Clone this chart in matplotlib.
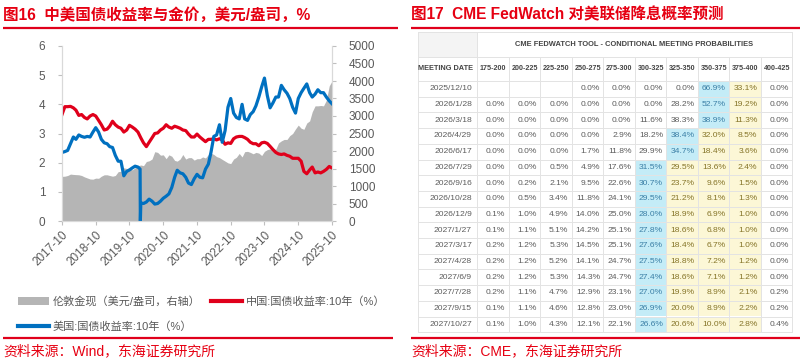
import numpy as np
import pandas as pd
import matplotlib
matplotlib.use('Agg')
import matplotlib.pyplot as plt
from matplotlib.patches import Rectangle
from matplotlib.lines import Line2D
from matplotlib.patches import Patch

plt.rcParams['font.family'] = ['Liberation Sans', 'Noto Sans CJK SC']

# ---------------- data: left chart (monthly, 2017-10 .. 2025-10) ----------------
start_month = '2017-10-01'
cn_10y = [3.65, 3.92, 3.92,
          3.93, 3.88, 3.80, 3.62, 3.65, 3.55, 3.50, 3.60, 3.65, 3.60, 3.45, 3.30,
          3.12, 3.15, 3.25, 3.42, 3.30, 3.22, 3.18, 3.05, 3.12, 3.28, 3.22, 3.15,
          3.05, 2.85, 2.68, 2.55, 2.70, 2.85, 3.00, 3.02, 3.12, 3.18, 3.30, 3.22,
          3.18, 3.25, 3.22, 3.18, 3.12, 3.10, 2.98, 2.88, 2.88, 2.98, 2.88, 2.80,
          2.72, 2.80, 2.80, 2.82, 2.78, 2.82, 2.78, 2.63, 2.68, 2.66, 2.82, 2.88,
          2.90, 2.90, 2.86, 2.80, 2.70, 2.65, 2.65, 2.58, 2.68, 2.70, 2.66, 2.56,
          2.45, 2.35, 2.30, 2.28, 2.30, 2.25, 2.22, 2.15, 2.15, 2.15, 2.05, 1.70,
          1.62, 1.75, 1.85, 1.65, 1.68, 1.65, 1.70, 1.77, 1.87, 1.82]
us_10y = [2.35, 2.38, 2.42,
          2.65, 2.88, 2.80, 2.95, 2.90, 2.87, 2.90, 2.88, 3.05, 3.20, 3.05, 2.80,
          2.68, 2.65, 2.55, 2.52, 2.25, 2.05, 2.05, 1.55, 1.70, 1.75, 1.82, 1.88,
          1.85, 0.62, 0.60, 0.65, 0.75, 0.68, 0.58, 0.60, 0.68, 0.78, 0.85, 0.93,
          1.15, 1.50, 1.74, 1.65, 1.62, 1.50, 1.30, 1.25, 1.45, 1.60, 1.50, 1.48,
          1.78, 1.95, 2.35, 2.90, 2.95, 3.30, 2.70, 3.10, 3.90, 4.20, 3.70, 3.55,
          3.50, 4.00, 3.50, 3.45, 3.65, 3.75, 3.95, 4.25, 4.60, 4.90, 4.30, 3.88,
          4.05, 4.25, 4.25, 4.65, 4.50, 4.38, 4.20, 3.90, 3.70, 4.20, 4.40, 4.55,
          4.70, 4.40, 4.25, 4.35, 4.50, 4.40, 4.40, 4.25, 4.12, 4.02]
us_extra_dates = ['2020-01-24', '2020-01-27']
us_extra_vals = [1.78, 0.0]
gold = [1275, 1280, 1300,
        1340, 1330, 1325, 1320, 1300, 1260, 1230, 1200, 1195, 1225, 1220, 1280,
        1320, 1320, 1300, 1280, 1300, 1410, 1420, 1520, 1500, 1510, 1460, 1520,
        1580, 1600, 1580, 1700, 1720, 1770, 1980, 1960, 1880, 1890, 1780, 1890,
        1850, 1730, 1710, 1770, 1900, 1770, 1810, 1810, 1740, 1780, 1780, 1830,
        1800, 1900, 1940, 1900, 1840, 1810, 1760, 1710, 1660, 1640, 1770, 1820,
        1930, 1830, 1980, 1990, 1960, 1920, 1960, 1940, 1870, 1990, 2040, 2060,
        2040, 2050, 2230, 2290, 2330, 2330, 2440, 2500, 2630, 2740, 2650, 2620,
        2800, 2860, 3120, 3290, 3290, 3300, 3290, 3450, 3860, 4000]
xtick_labels = ['2017-10', '2018-10', '2019-10', '2020-10', '2021-10',
                '2022-10', '2023-10', '2024-10', '2025-10']

# ---------------- data: right table ----------------
rate_bins = ['175-200', '200-225', '225-250', '250-275', '275-300',
             '300-325', '325-350', '350-375', '375-400', '400-425']
meeting_dates = ['2025/12/10', '2026/1/28', '2026/3/18', '2026/4/29', '2026/6/17',
                 '2026/7/29', '2026/9/16', '2026/10/28', '2026/12/9', '2027/1/27',
                 '2027/3/17', '2027/4/28', '2027/6/9', '2027/7/28', '2027/9/15',
                 '2027/10/27']
prob_rows = [
    [None, None, None, 0.0, 0.0, 0.0, 0.0, 66.9, 33.1, 0.0],
    [0.0, 0.0, 0.0, 0.0, 0.0, 0.0, 28.2, 52.7, 19.2, 0.0],
    [0.0, 0.0, 0.0, 0.0, 0.0, 11.6, 38.3, 38.9, 11.3, 0.0],
    [0.0, 0.0, 0.0, 0.0, 2.9, 18.2, 38.4, 32.0, 8.5, 0.0],
    [0.0, 0.0, 0.0, 1.7, 11.8, 29.9, 34.7, 18.4, 3.6, 0.0],
    [0.0, 0.0, 0.5, 4.9, 17.6, 31.5, 29.5, 13.6, 2.4, 0.0],
    [0.0, 0.2, 2.1, 9.5, 22.6, 30.7, 23.7, 9.6, 1.5, 0.0],
    [0.0, 0.5, 3.4, 11.8, 24.1, 29.5, 21.2, 8.1, 1.3, 0.0],
    [0.1, 1.0, 4.9, 14.0, 25.0, 28.0, 18.9, 6.9, 1.0, 0.0],
    [0.1, 1.1, 5.1, 14.2, 25.1, 27.8, 18.6, 6.8, 1.0, 0.0],
    [0.2, 1.2, 5.3, 14.5, 25.1, 27.6, 18.4, 6.7, 1.0, 0.0],
    [0.2, 1.2, 5.2, 14.1, 24.7, 27.5, 18.8, 7.2, 1.2, 0.0],
    [0.2, 1.2, 5.3, 14.3, 24.7, 27.4, 18.6, 7.1, 1.2, 0.0],
    [0.2, 1.1, 4.7, 12.9, 23.1, 27.0, 19.9, 8.9, 2.1, 0.2],
    [0.1, 1.1, 4.6, 12.8, 23.0, 26.9, 20.0, 8.9, 2.2, 0.2],
    [0.1, 1.0, 4.3, 12.1, 22.1, 26.6, 20.6, 10.0, 2.8, 0.4],
]
current_bin = '375-400'

# ---------------- styles ----------------
RED_T = '#e60012'
RED_L = '#e0001b'
BLUE_L = '#0070c0'
GRAY_A = '#b5b5b5'
TXT = '#595959'

W, H = 807, 363
fig = plt.figure(figsize=(W / 100, H / 100), dpi=100)

def fx(px):
    return px / W

def fy(py):
    return 1 - py / H

# ---------------- left chart ----------------
dates = pd.date_range(start_month, periods=len(cn_10y), freq='MS')
us_s = pd.Series(us_10y, index=dates)
us_s = pd.concat([us_s, pd.Series(us_extra_vals, index=pd.to_datetime(us_extra_dates))]).sort_index()

ax_l, ax_r, ax_t, ax_b = 62, 332, 46, 221
ax = fig.add_axes([fx(ax_l), fy(ax_b), fx(ax_r - ax_l), (ax_b - ax_t) / H])
ax2 = ax.twinx()
ax2.fill_between(dates, gold, 0, color=GRAY_A, lw=0)
ax2.set_ylim(0, 5000)
ax2.set_yticks(np.arange(0, 5001, 500))
ax.set_zorder(ax2.get_zorder() + 1)
ax.patch.set_visible(False)

ax.plot(dates, cn_10y, color=RED_L, lw=2.3, solid_joinstyle='round')
ax.plot(us_s.index, us_s.values, color=BLUE_L, lw=2.3, solid_joinstyle='round')
ax.set_ylim(0, 6)
ax.set_yticks(range(0, 7))
ax.set_xlim(dates[0], dates[-1])
tick_dates = pd.to_datetime([s + '-01' for s in xtick_labels])
ax.set_xticks(tick_dates)
ax.set_xticklabels(xtick_labels, rotation=45, ha='right', rotation_mode='anchor')

for a in (ax, ax2):
    for s in a.spines.values():
        s.set_color('#d9d9d9')
    a.spines['top'].set_visible(False)
    a.tick_params(colors='#bfbfbf', labelcolor=TXT, labelsize=8.5, length=3, width=0.8)
ax.tick_params(axis='y', pad=9)
ax2.tick_params(axis='y', pad=9)
ax.tick_params(axis='x', pad=3, labelsize=8.5)

handles = [Patch(facecolor=GRAY_A, edgecolor='none'),
           Line2D([], [], color=BLUE_L, lw=3),
           Line2D([], [], color=RED_L, lw=3)]
labels = ['伦敦金现（美元/盎司，右轴）', '美国:国债收益率:10年（%）', '中国:国债收益率:10年（%）']
leg = fig.legend(handles, labels, ncol=2, loc='upper left',
                 bbox_to_anchor=(fx(18), fy(296)), frameon=False,
                 fontsize=8, handlelength=2.8, handleheight=0.7,
                 handletextpad=0.35, columnspacing=0.9, labelspacing=1.3,
                 borderaxespad=0, borderpad=0)
for t in leg.get_texts():
    t.set_color(TXT)

# ---------------- overlay for titles / table ----------------
ov = fig.add_axes([0, 0, 1, 1])
ov.set_xlim(0, W)
ov.set_ylim(H, 0)
ov.axis('off')

ov.text(3, 15, '图16  中美国债收益率与金价，美元/盎司，%', color=RED_T,
        fontsize=11.2, fontweight='bold', va='center', ha='left')
ov.text(411, 15, '图17  CME FedWatch 对美联储降息概率预测', color=RED_T,
        fontsize=11.2, fontweight='bold', va='center', ha='left')
ov.plot([3, 398], [28, 28], color=RED_L, lw=1.6, solid_capstyle='butt')
ov.plot([411, 800], [28, 28], color=RED_L, lw=1.6, solid_capstyle='butt')
ov.plot([3, 393], [338, 338], color=RED_L, lw=1.6, solid_capstyle='butt')
ov.plot([411, 800], [338, 338], color=RED_L, lw=1.6, solid_capstyle='butt')
ov.text(3, 351, '资料来源：Wind，东海证券研究所', color=RED_T, fontsize=10,
        va='center', ha='left')
ov.text(411, 351, '资料来源：CME，东海证券研究所', color=RED_T, fontsize=10,
        va='center', ha='left')

# table geometry
t_left, date_w, col_w = 418, 59, 31.5
t_top, h1, h2, row_h = 32, 25, 24, 15.7
ncol = len(rate_bins)
col_x0 = t_left + date_w
t_right = col_x0 + ncol * col_w
data_top = t_top + h1 + h2
t_bottom = data_top + len(meeting_dates) * row_h
GRID = '#e3e3e3'
BLUE_F = '#c4ecf7'
YEL_F = '#fcf7d6'
cur_idx = rate_bins.index(current_bin)

ov.add_patch(Rectangle((t_left, t_top), date_w, h1, facecolor='#f4f4f4', edgecolor='none'))
for r, row in enumerate(prob_rows):
    vals = [v if v is not None else -1 for v in row]
    imax = int(np.argmax(vals))
    y0 = data_top + r * row_h
    for c, v in enumerate(row):
        x0 = col_x0 + c * col_w
        fc, tc = None, '#5c5c5c'
        if c == imax:
            fc, tc = BLUE_F, '#3b7fa6'
        elif imax < c <= cur_idx:
            fc, tc = YEL_F, '#857428'
        if fc:
            ov.add_patch(Rectangle((x0, y0), col_w, row_h, facecolor=fc, edgecolor='none'))
        if v is not None:
            ov.text(x0 + col_w - 3, y0 + row_h / 2, f'{v:.1f}%', fontsize=6.1,
                    color=tc, ha='right', va='center')
    ov.text(col_x0 - 5, y0 + row_h / 2, meeting_dates[r], fontsize=6.1,
            color='#5c5c5c', ha='right', va='center')

# grid lines
ys = [t_top, t_top + h1, data_top] + [data_top + (i + 1) * row_h for i in range(len(meeting_dates))]
for yy in ys:
    ov.plot([t_left, t_right], [yy, yy], color=GRID, lw=0.7)
for i in range(ncol + 1):
    xx = col_x0 + i * col_w
    top = t_top + h1 if 0 < i < ncol else t_top
    ov.plot([xx, xx], [top, t_bottom], color=GRID, lw=0.7)
ov.plot([t_left, t_left], [t_top, t_bottom], color=GRID, lw=0.7)

ov.text((col_x0 + t_right) / 2, t_top + h1 / 2,
        'CME FEDWATCH TOOL - CONDITIONAL MEETING PROBABILITIES',
        fontsize=5.4, fontweight='bold', color='#444444', ha='center', va='center')
ov.text(col_x0 - 4, t_top + h1 + h2 / 2, 'MEETING DATE', fontsize=5.3,
        fontweight='bold', color='#444444', ha='right', va='center')
for c, b in enumerate(rate_bins):
    ov.text(col_x0 + (c + 1) * col_w - 2, t_top + h1 + h2 / 2, b, fontsize=5.1,
            fontweight='bold', color='#444444', ha='right', va='center')

fig.savefig('out.png', dpi=100)
